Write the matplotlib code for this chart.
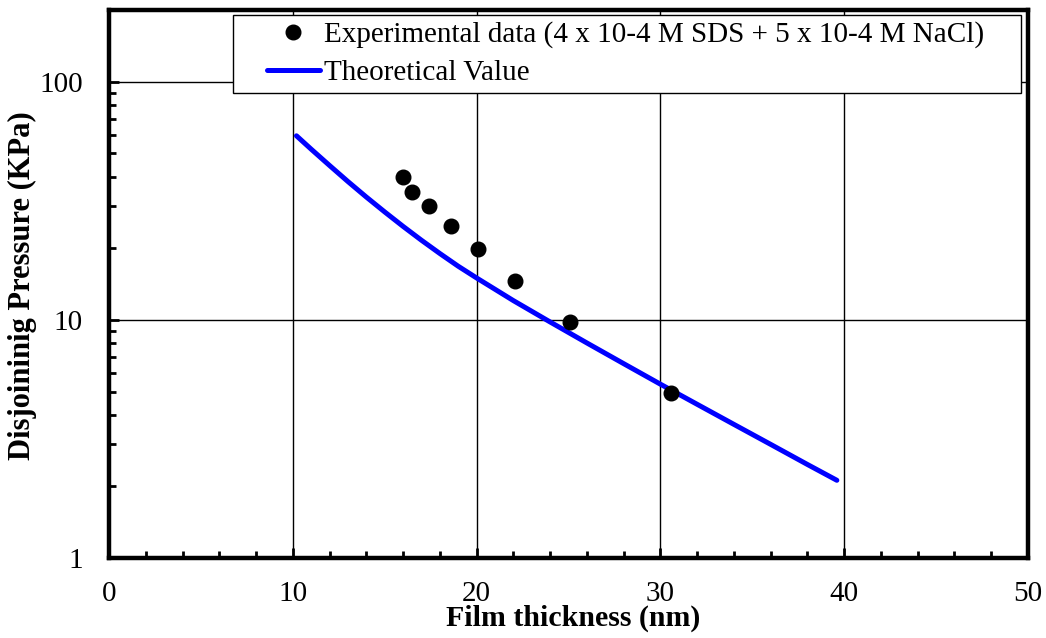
import matplotlib
matplotlib.use("Agg")
import matplotlib.pyplot as plt
from matplotlib.legend_handler import HandlerLine2D
from matplotlib.ticker import FixedLocator, MultipleLocator, LogLocator, NullFormatter

plt.rcParams['font.family'] = ['Liberation Serif', 'DejaVu Serif']

# Measured film thickness (nm) and disjoining pressure (kPa)
exp_thickness = [16.0, 16.5, 17.4, 18.6, 20.1, 22.1, 25.1, 30.6]
exp_pressure = [40.0, 34.6, 30.1, 24.8, 19.8, 14.6, 9.8, 4.95]

# Theoretical disjoining pressure curve
theo_thickness = [10.2, 11, 12, 13, 14, 15, 16, 17, 18, 19, 20, 22, 24, 26,
                  28, 30, 32, 34, 36, 38, 39.6]
theo_pressure = [59.3, 52.1, 44.5, 38.1, 32.8, 28.4, 24.7, 21.6, 19.0, 16.8,
                 15.0, 12.05, 9.8, 8.0, 6.55, 5.37, 4.42, 3.64, 3.0, 2.47, 2.12]

x_ticks = [0, 10, 20, 30, 40, 50]
y_ticks = [1, 10, 100]
y_tick_labels = ['1', '10', '100']


class InsetLineHandler(HandlerLine2D):
    """Legend handler that leaves empty space on the left of the key."""

    def __init__(self, inset=0.0, **kw):
        super().__init__(**kw)
        self.inset = inset

    def create_artists(self, legend, orig_handle, xdescent, ydescent,
                       width, height, fontsize, trans):
        return super().create_artists(legend, orig_handle,
                                      xdescent - self.inset, ydescent,
                                      width - self.inset, height, fontsize, trans)


fig = plt.figure(figsize=(10.46, 6.38), dpi=100)
ax = fig.add_axes([0.1042, 0.1254, 0.8786, 0.8588])

line, = ax.plot(theo_thickness, theo_pressure, color='#0000ff', lw=3.6,
                solid_capstyle='round', solid_joinstyle='round',
                label='Theoretical Value', zorder=3)
pts, = ax.plot(exp_thickness, exp_pressure, 'o', color='black', ms=10.5,
               label='Experimental data (4 x 10-4 M SDS + 5 x 10-4 M NaCl)',
               zorder=4)

ax.set_yscale('log')
ax.set_xlim(0, 50)
ax.set_ylim(1, 200)

ax.xaxis.set_major_locator(FixedLocator(x_ticks))
ax.xaxis.set_minor_locator(MultipleLocator(2))
ax.yaxis.set_major_locator(FixedLocator(y_ticks))
ax.set_yticklabels(y_tick_labels)
ax.yaxis.set_minor_locator(LogLocator(base=10, subs=range(2, 10)))
ax.yaxis.set_minor_formatter(NullFormatter())

ax.grid(True, which='major', color='black', lw=1.0, zorder=0)
ax.set_axisbelow(True)

ax.tick_params(which='both', direction='in', top=False, right=False,
               labelsize=21, width=2, color='black')
ax.tick_params(which='major', length=7)
ax.tick_params(which='minor', length=5)
ax.tick_params(axis='x', which='major', pad=16.5)
ax.tick_params(axis='y', which='major', pad=19)

for sp in ax.spines.values():
    sp.set_linewidth(3.2)
    sp.set_zorder(5)

ax.set_xlabel('Film thickness (nm)', fontsize=21.5, fontweight='bold')
ax.xaxis.set_label_coords(0.505, -0.086)
ax.set_ylabel('Disjoininig Pressure (KPa)', fontsize=22, fontweight='bold')
ax.yaxis.set_label_coords(-0.0783, 0.497)

fs = 21
leg = ax.legend([pts, line], [pts.get_label(), line.get_label()],
                loc='upper left', mode='expand',
                bbox_to_anchor=(0.1349, 0.852, 0.8575, 0.1389),
                fontsize=fs, frameon=True, fancybox=False, edgecolor='black',
                framealpha=1, borderpad=0.22, handlelength=2.76,
                handletextpad=0.14, labelspacing=0.39, borderaxespad=0,
                handler_map={line: InsetLineHandler(inset=19.9),
                             pts: InsetLineHandler(inset=19.9)})
leg.get_frame().set_linewidth(1.0)
leg.set_zorder(6)

fig.savefig('out.png', dpi=100)
